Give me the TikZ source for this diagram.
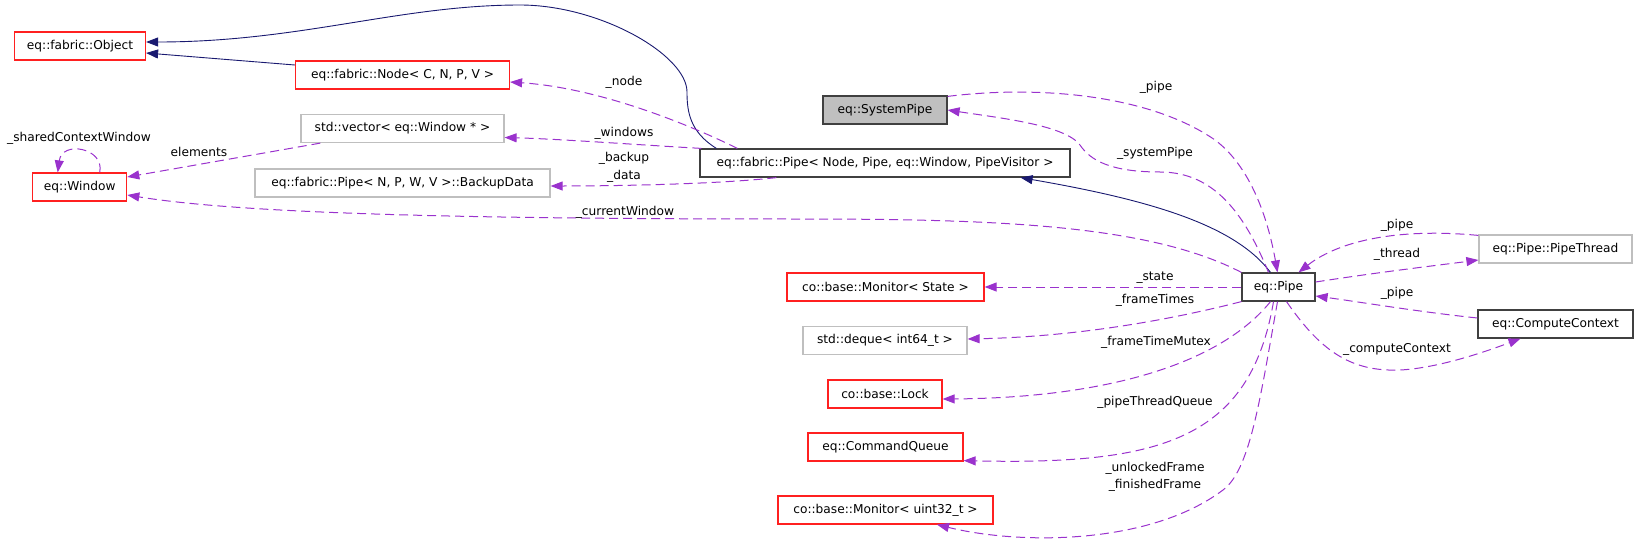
\documentclass[tikz,border=0pt]{standalone}
\usepackage{fontspec}
\setmainfont{DejaVu Sans}
\usepackage{tikz}
\usetikzlibrary{arrows.meta}
\definecolor{deppurple}{HTML}{9A32CD}
\definecolor{inhnavy}{HTML}{191970}
\definecolor{boxred}{HTML}{FF2020}
\definecolor{boxgrey}{HTML}{BFBFBF}
\definecolor{boxdark}{HTML}{404040}

\begin{document}
\begin{tikzpicture}[
  x=1pt, y=-1pt,
  font=\fontsize{12.2}{17.5}\selectfont,
  box/.style={draw, line width=1.2pt, minimum height=28pt, inner sep=0pt, align=center},
  redbox/.style={box, draw=boxred},
  greybox/.style={box, draw=boxgrey},
  darkbox/.style={box, draw=boxdark},
  lbl/.style={inner sep=0pt, align=center},
  inh/.style={-{Triangle[length=12pt, width=9pt]}, color=inhnavy, line width=0.9pt},
  dep/.style={-{Triangle[length=12pt, width=9pt]}, color=deppurple, line width=1pt, dash pattern=on 9pt off 5pt}
]
  \useasboundingbox (0,0) rectangle (1639,546);

  % classes
  \node[redbox,  minimum width=131pt] (obj)      at (80,46)      {eq::fabric::Object};
  \node[redbox,  minimum width=214pt] (fnode)    at (402.5,75)   {eq::fabric::Node< C, N, P, V >};
  \node[greybox, minimum width=203pt] (vec)      at (402.5,128.5) {std::vector< eq::Window * >};
  \node[redbox,  minimum width=94pt]  (win)      at (79.7,187)   {eq::Window};
  \node[greybox, minimum width=295pt] (backup)   at (402.5,183)  {eq::fabric::Pipe< N, P, W, V >::BackupData};
  \node[darkbox, minimum width=124pt, fill=boxgrey] (syspipe) at (885,110) {eq::SystemPipe};
  \node[darkbox, minimum width=370pt] (fpipe)    at (885,163)    {eq::fabric::Pipe< Node, Pipe, eq::Window, PipeVisitor >};
  \node[darkbox, minimum width=73pt]  (pipe)     at (1278.5,287) {eq::Pipe};
  \node[greybox, minimum width=153pt] (thread)   at (1555.5,249) {eq::Pipe::PipeThread};
  \node[darkbox, minimum width=155pt] (compctx)  at (1555.5,324) {eq::ComputeContext};
  \node[redbox,  minimum width=197pt] (monstate) at (885.5,287)  {co::base::Monitor< State >};
  \node[greybox, minimum width=164pt] (deque)    at (885,340.5)  {std::deque< int64\_t >};
  \node[redbox,  minimum width=114pt] (lock)     at (885,394)    {co::base::Lock};
  \node[redbox,  minimum width=155pt] (cmdq)     at (885.5,447)  {eq::CommandQueue};
  \node[redbox,  minimum width=215pt] (monu32)   at (885.5,510)  {co::base::Monitor< uint32\_t >};

  % inheritance
  \draw[inh] ([yshift=10pt]fnode.west) -- ([yshift=-7pt]obj.east);
  \draw[inh] ([xshift=17pt]fpipe.north west) .. controls (690,132) and (687,112) .. (687,92)
    .. controls (687,55) and (600,5) .. (520,5) .. controls (400,5) and (300,42) .. ([yshift=4pt]obj.east);
  \draw[inh] ([xshift=-8pt]pipe.north) .. controls (1235,225) and (1150,200) .. ([xshift=-50pt]fpipe.south east);

  % members
  \draw[dep] ([xshift=38pt]fpipe.north west) .. controls (690,125) and (600,88) .. ([yshift=-7pt]fnode.east);
  \draw[dep] ([xshift=2pt]fpipe.north west) .. controls (640,145) and (560,139) .. ([yshift=-9pt]vec.east);
  \draw[dep] ([xshift=77pt]fpipe.south west) .. controls (720,184) and (620,186) .. ([yshift=-3pt]backup.east);
  \draw[dep] ([xshift=20pt]vec.south west) -- ([yshift=10pt]win.east);
  \draw[dep] ([xshift=20pt]win.north) .. controls (105,148) and (62,140) .. ([xshift=-22pt]win.north);
  \draw[dep] (pipe.north west) .. controls (1150,225) and (1000,219) .. (800,219)
    .. controls (500,219) and (250,215) .. ([yshift=-8pt]win.east);
  \draw[dep] ([yshift=-1pt]syspipe.north east) .. controls (1040,85) and (1150,95) .. (1215,140)
    .. controls (1255,170) and (1270,230) .. ([xshift=-1pt]pipe.north);
  \draw[dep] ([xshift=-10pt]pipe.north) .. controls (1245,215) and (1215,172) .. (1160,172)
    .. controls (1110,172) and (1090,160) .. (1080,145) .. controls (1065,125) and (1000,118) .. (syspipe.east);
  \draw[dep] ([yshift=-1pt]thread.north west) .. controls (1400,228) and (1340,240) .. ([xshift=20pt]pipe.north);
  \draw[dep] ([yshift=5pt]pipe.east) .. controls (1380,272) and (1440,265) .. ([yshift=-11pt]thread.west);
  \draw[dep] ([yshift=6pt]compctx.west) .. controls (1420,312) and (1360,302) .. ([yshift=-9pt]pipe.east);
  \draw[dep] ([xshift=8pt]pipe.south) .. controls (1320,350) and (1350,372) .. (1400,370)
    .. controls (1440,368) and (1490,350) .. ([xshift=-35pt]compctx.south);
  \draw[dep] (pipe.west) -- (monstate.east);
  \draw[dep] (pipe.south west) .. controls (1150,325) and (1060,337) .. ([yshift=1.5pt]deque.east);
  \draw[dep] ([xshift=-8pt]pipe.south) .. controls (1215,370) and (1090,398) .. ([yshift=-5pt]lock.east);
  \draw[dep] ([xshift=-5pt]pipe.south) .. controls (1250,440) and (1160,465) .. ([yshift=1pt]cmdq.south east);
  \draw[dep] ([xshift=-1pt]pipe.south) .. controls (1260,400) and (1250,470) .. (1223,490)
    .. controls (1150,545) and (1020,545) .. ([xshift=51.5pt]monu32.south);

  % labels
  \node[lbl] (lshared)  at (79,138)    {\_sharedContextWindow};
  \node[lbl] (lelem)    at (199,152)   {elements};
  \node[lbl] (lnode)    at (624,82)    {\_node};
  \node[lbl] (lwindows) at (624,133)   {\_windows};
  \node[lbl] (lbackup)  at (624,167.5) {\_backup\\\_data};
  \node[lbl] (lcurwin)  at (625,212)   {\_currentWindow};
  \node[lbl] (lpipe)    at (1156,87)   {\_pipe};
  \node[lbl] (lsyspipe) at (1155,153)  {\_systemPipe};
  \node[lbl] (lpipethr) at (1397,225)  {\_pipe};
  \node[lbl] (lthread)  at (1397,254)  {\_thread};
  \node[lbl] (lpipecc)  at (1397,293)  {\_pipe};
  \node[lbl] (lcompctx) at (1397,349)  {\_computeContext};
  \node[lbl] (lstate)   at (1155,278)  {\_state};
  \node[lbl] (lftimes)  at (1155,300)  {\_frameTimes};
  \node[lbl] (lftmutex) at (1156,342)  {\_frameTimeMutex};
  \node[lbl] (lptqueue) at (1155,402)  {\_pipeThreadQueue};
  \node[lbl] (lframes)  at (1155,477)  {\_unlockedFrame\\\_finishedFrame};
\end{tikzpicture}
\end{document}
